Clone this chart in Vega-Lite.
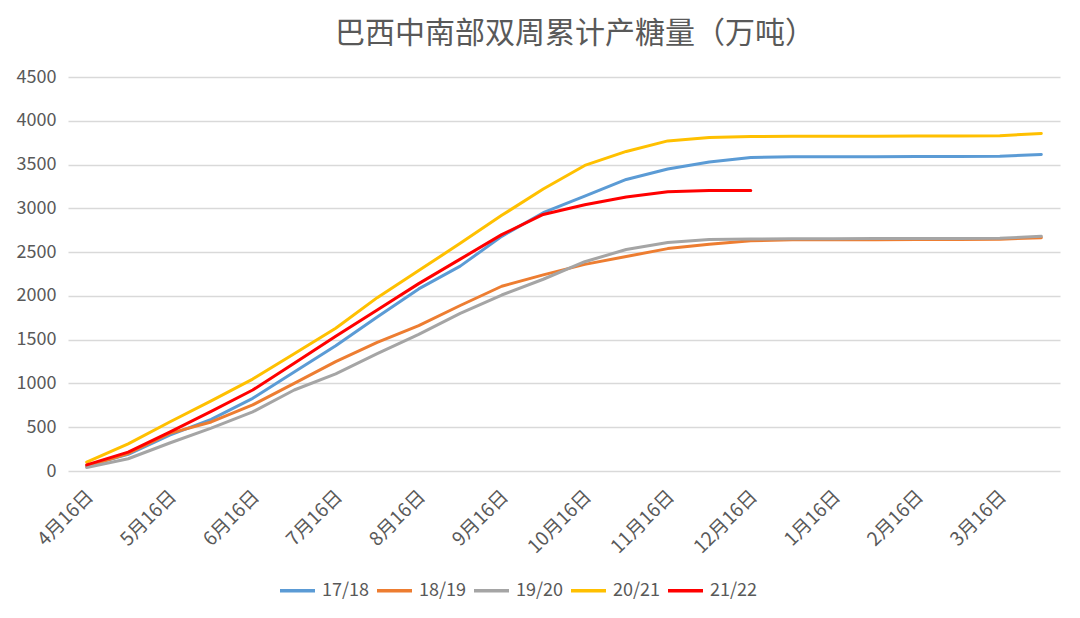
{
  "$schema": "https://vega.github.io/schema/vega-lite/v6.json",
  "width": 992,
  "height": 394,
  "autosize": {"type": "none"},
  "padding": {"left": 68, "top": 77, "right": 20, "bottom": 147},
  "background": "white",
  "title": {
    "text": "巴西中南部双周累计产糖量（万吨）",
    "font": "Noto Sans CJK SC",
    "fontSize": 30,
    "fontWeight": "normal",
    "color": "#595959",
    "anchor": "middle",
    "dx": 11,
    "offset": 19
  },
  "data": {
    "values": [
      {"date": "4月16日", "season": "17/18", "sugar": 60},
      {"date": "5月1日", "season": "17/18", "sugar": 190},
      {"date": "5月16日", "season": "17/18", "sugar": 410},
      {"date": "6月1日", "season": "17/18", "sugar": 590},
      {"date": "6月16日", "season": "17/18", "sugar": 830},
      {"date": "7月1日", "season": "17/18", "sugar": 1130},
      {"date": "7月16日", "season": "17/18", "sugar": 1430},
      {"date": "8月1日", "season": "17/18", "sugar": 1760},
      {"date": "8月16日", "season": "17/18", "sugar": 2080},
      {"date": "9月1日", "season": "17/18", "sugar": 2340},
      {"date": "9月16日", "season": "17/18", "sugar": 2680},
      {"date": "10月1日", "season": "17/18", "sugar": 2950},
      {"date": "10月16日", "season": "17/18", "sugar": 3140},
      {"date": "11月1日", "season": "17/18", "sugar": 3330},
      {"date": "11月16日", "season": "17/18", "sugar": 3450},
      {"date": "12月1日", "season": "17/18", "sugar": 3530},
      {"date": "12月16日", "season": "17/18", "sugar": 3580},
      {"date": "1月1日", "season": "17/18", "sugar": 3590},
      {"date": "1月16日", "season": "17/18", "sugar": 3590},
      {"date": "2月1日", "season": "17/18", "sugar": 3590},
      {"date": "2月16日", "season": "17/18", "sugar": 3592},
      {"date": "3月1日", "season": "17/18", "sugar": 3593},
      {"date": "3月16日", "season": "17/18", "sugar": 3595},
      {"date": "4月1日", "season": "17/18", "sugar": 3615},

      {"date": "4月16日", "season": "18/19", "sugar": 50},
      {"date": "5月1日", "season": "18/19", "sugar": 200},
      {"date": "5月16日", "season": "18/19", "sugar": 430},
      {"date": "6月1日", "season": "18/19", "sugar": 560},
      {"date": "6月16日", "season": "18/19", "sugar": 755},
      {"date": "7月1日", "season": "18/19", "sugar": 1000},
      {"date": "7月16日", "season": "18/19", "sugar": 1250},
      {"date": "8月1日", "season": "18/19", "sugar": 1470},
      {"date": "8月16日", "season": "18/19", "sugar": 1660},
      {"date": "9月1日", "season": "18/19", "sugar": 1890},
      {"date": "9月16日", "season": "18/19", "sugar": 2110},
      {"date": "10月1日", "season": "18/19", "sugar": 2240},
      {"date": "10月16日", "season": "18/19", "sugar": 2360},
      {"date": "11月1日", "season": "18/19", "sugar": 2450},
      {"date": "11月16日", "season": "18/19", "sugar": 2540},
      {"date": "12月1日", "season": "18/19", "sugar": 2590},
      {"date": "12月16日", "season": "18/19", "sugar": 2630},
      {"date": "1月1日", "season": "18/19", "sugar": 2640},
      {"date": "1月16日", "season": "18/19", "sugar": 2640},
      {"date": "2月1日", "season": "18/19", "sugar": 2642},
      {"date": "2月16日", "season": "18/19", "sugar": 2643},
      {"date": "3月1日", "season": "18/19", "sugar": 2645},
      {"date": "3月16日", "season": "18/19", "sugar": 2648},
      {"date": "4月1日", "season": "18/19", "sugar": 2665},

      {"date": "4月16日", "season": "19/20", "sugar": 40},
      {"date": "5月1日", "season": "19/20", "sugar": 140},
      {"date": "5月16日", "season": "19/20", "sugar": 320},
      {"date": "6月1日", "season": "19/20", "sugar": 490},
      {"date": "6月16日", "season": "19/20", "sugar": 675},
      {"date": "7月1日", "season": "19/20", "sugar": 925},
      {"date": "7月16日", "season": "19/20", "sugar": 1110},
      {"date": "8月1日", "season": "19/20", "sugar": 1340},
      {"date": "8月16日", "season": "19/20", "sugar": 1560},
      {"date": "9月1日", "season": "19/20", "sugar": 1800},
      {"date": "9月16日", "season": "19/20", "sugar": 2010},
      {"date": "10月1日", "season": "19/20", "sugar": 2190},
      {"date": "10月16日", "season": "19/20", "sugar": 2390},
      {"date": "11月1日", "season": "19/20", "sugar": 2530},
      {"date": "11月16日", "season": "19/20", "sugar": 2610},
      {"date": "12月1日", "season": "19/20", "sugar": 2645},
      {"date": "12月16日", "season": "19/20", "sugar": 2650},
      {"date": "1月1日", "season": "19/20", "sugar": 2652},
      {"date": "1月16日", "season": "19/20", "sugar": 2653},
      {"date": "2月1日", "season": "19/20", "sugar": 2655},
      {"date": "2月16日", "season": "19/20", "sugar": 2655},
      {"date": "3月1日", "season": "19/20", "sugar": 2656},
      {"date": "3月16日", "season": "19/20", "sugar": 2658},
      {"date": "4月1日", "season": "19/20", "sugar": 2680},

      {"date": "4月16日", "season": "20/21", "sugar": 100},
      {"date": "5月1日", "season": "20/21", "sugar": 310},
      {"date": "5月16日", "season": "20/21", "sugar": 560},
      {"date": "6月1日", "season": "20/21", "sugar": 800},
      {"date": "6月16日", "season": "20/21", "sugar": 1050},
      {"date": "7月1日", "season": "20/21", "sugar": 1340},
      {"date": "7月16日", "season": "20/21", "sugar": 1630},
      {"date": "8月1日", "season": "20/21", "sugar": 1980},
      {"date": "8月16日", "season": "20/21", "sugar": 2290},
      {"date": "9月1日", "season": "20/21", "sugar": 2600},
      {"date": "9月16日", "season": "20/21", "sugar": 2920},
      {"date": "10月1日", "season": "20/21", "sugar": 3220},
      {"date": "10月16日", "season": "20/21", "sugar": 3490},
      {"date": "11月1日", "season": "20/21", "sugar": 3650},
      {"date": "11月16日", "season": "20/21", "sugar": 3770},
      {"date": "12月1日", "season": "20/21", "sugar": 3810},
      {"date": "12月16日", "season": "20/21", "sugar": 3820},
      {"date": "1月1日", "season": "20/21", "sugar": 3822},
      {"date": "1月16日", "season": "20/21", "sugar": 3823},
      {"date": "2月1日", "season": "20/21", "sugar": 3824},
      {"date": "2月16日", "season": "20/21", "sugar": 3825},
      {"date": "3月1日", "season": "20/21", "sugar": 3826},
      {"date": "3月16日", "season": "20/21", "sugar": 3830},
      {"date": "4月1日", "season": "20/21", "sugar": 3855},

      {"date": "4月16日", "season": "21/22", "sugar": 70},
      {"date": "5月1日", "season": "21/22", "sugar": 215},
      {"date": "5月16日", "season": "21/22", "sugar": 445},
      {"date": "6月1日", "season": "21/22", "sugar": 680},
      {"date": "6月16日", "season": "21/22", "sugar": 925},
      {"date": "7月1日", "season": "21/22", "sugar": 1230},
      {"date": "7月16日", "season": "21/22", "sugar": 1540},
      {"date": "8月1日", "season": "21/22", "sugar": 1840},
      {"date": "8月16日", "season": "21/22", "sugar": 2140},
      {"date": "9月1日", "season": "21/22", "sugar": 2420},
      {"date": "9月16日", "season": "21/22", "sugar": 2700},
      {"date": "10月1日", "season": "21/22", "sugar": 2930},
      {"date": "10月16日", "season": "21/22", "sugar": 3040},
      {"date": "11月1日", "season": "21/22", "sugar": 3130},
      {"date": "11月16日", "season": "21/22", "sugar": 3190},
      {"date": "12月1日", "season": "21/22", "sugar": 3205},
      {"date": "12月16日", "season": "21/22", "sugar": 3205}
    ]
  },
  "mark": {"type": "line", "strokeWidth": 3, "strokeCap": "round", "strokeJoin": "round"},
  "encoding": {
    "x": {
      "field": "date",
      "type": "ordinal",
      "sort": null,
      "scale": {"type": "point", "padding": 0.45},
      "axis": {
        "title": null,
        "values": ["4月16日", "5月16日", "6月16日", "7月16日", "8月16日", "9月16日", "10月16日", "11月16日", "12月16日", "1月16日", "2月16日", "3月16日"],
        "labelAngle": -45,
        "labelAlign": "right",
        "labelBaseline": "middle",
        "labelPadding": 22,
        "labelOffset": 3,
        "labelFontSize": 19,
        "labelColor": "#595959",
        "labelFont": "Noto Sans CJK SC",
        "ticks": false,
        "domain": false,
        "grid": false
      }
    },
    "y": {
      "field": "sugar",
      "type": "quantitative",
      "scale": {"domain": [0, 4500], "nice": false},
      "axis": {
        "title": null,
        "format": "d",
        "values": [0, 500, 1000, 1500, 2000, 2500, 3000, 3500, 4000, 4500],
        "labelFontSize": 18,
        "labelColor": "#595959",
        "labelFont": "Noto Sans CJK SC",
        "labelPadding": 12,
        "ticks": false,
        "domain": false,
        "grid": true,
        "gridColor": "#d9d9d9",
        "gridWidth": 1.5
      }
    },
    "color": {
      "field": "season",
      "type": "nominal",
      "scale": {
        "domain": ["17/18", "18/19", "19/20", "20/21", "21/22"],
        "range": ["#5B9BD5", "#ED7D31", "#A5A5A5", "#FFC000", "#FF0000"]
      },
      "legend": {
        "title": null,
        "orient": "none",
        "direction": "horizontal",
        "legendX": 210,
        "legendY": 494,
        "symbolType": "stroke",
        "symbolSize": 1225,
        "symbolStrokeWidth": 3.5,
        "labelFontSize": 18,
        "labelColor": "#595959",
        "labelFont": "Noto Sans CJK SC",
        "labelOffset": 5,
        "columnPadding": 0
      }
    }
  },
  "config": {
    "view": {"stroke": null}
  }
}
